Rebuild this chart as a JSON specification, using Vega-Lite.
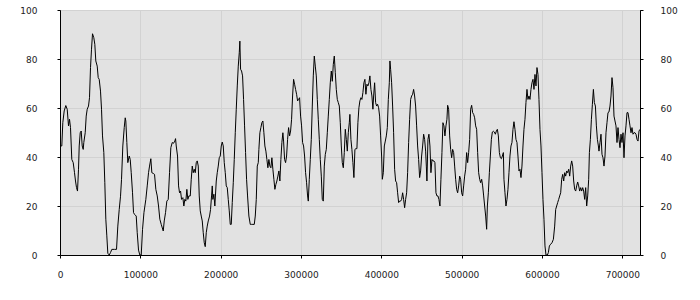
{
"$schema":"https://vega.github.io/schema/vega-lite/v6.json",
"width":580,"height":245,
"autosize":{"type":"none"},
"padding":{"left":60,"top":10,"right":60,"bottom":45},
"background":"white",
"view":{"fill":"#e2e2e2","stroke":"black","strokeWidth":1},
"data":{"values":[
{"x":0,"y":44.5},{"x":2240,"y":44.5},{"x":3490,"y":54},{"x":5230,"y":58.8},{"x":7220,"y":61},{"x":8970,"y":59.5},{"x":10590,"y":52.7},{"x":11830,"y":55.4},{"x":13080,"y":52},{"x":14690,"y":39},{"x":16440,"y":37.7},{"x":18060,"y":33.6},{"x":19300,"y":30.2},{"x":20550,"y":27.5},{"x":21790,"y":26.1},{"x":23040,"y":35},{"x":23910,"y":44.5},{"x":25150,"y":49.9},{"x":26400,"y":50.6},{"x":27650,"y":44.5},{"x":28890,"y":43.1},{"x":29640,"y":45.9},{"x":31380,"y":49.9},{"x":32630,"y":56.7},{"x":33870,"y":59.5},{"x":35490,"y":60.8},{"x":36740,"y":64.2},{"x":37980,"y":76.5},{"x":39230,"y":84},{"x":40470,"y":90.3},{"x":42090,"y":88.7},{"x":43340,"y":86},{"x":44580,"y":79.2},{"x":46320,"y":77.1},{"x":47570,"y":72.4},{"x":48810,"y":71.7},{"x":50430,"y":66.9},{"x":51680,"y":59.5},{"x":52920,"y":48.6},{"x":54540,"y":41.8},{"x":55790,"y":29.5},{"x":57030,"y":14.6},{"x":58280,"y":7.8},{"x":59520,"y":0.7},{"x":61270,"y":0},{"x":62890,"y":1},{"x":64510,"y":2.3},{"x":67870,"y":2.3},{"x":70360,"y":2.3},{"x":71980,"y":11.8},{"x":73720,"y":18.6},{"x":75340,"y":24},{"x":76580,"y":30.9},{"x":78200,"y":44.5},{"x":79950,"y":52},{"x":81190,"y":56},{"x":81940,"y":54.7},{"x":83190,"y":45.9},{"x":84430,"y":37.7},{"x":86170,"y":40.4},{"x":87420,"y":39},{"x":88660,"y":33.6},{"x":90280,"y":25.4},{"x":91530,"y":17.3},{"x":92770,"y":16.6},{"x":94890,"y":15.9},{"x":96130,"y":9.1},{"x":97750,"y":2},{"x":99370,"y":0},{"x":101120,"y":0},{"x":102740,"y":10.5},{"x":104500,"y":17.3},{"x":106850,"y":22.7},{"x":108590,"y":28.2},{"x":110210,"y":33.6},{"x":111460,"y":36.3},{"x":113080,"y":39.3},{"x":114320,"y":33.6},{"x":116060,"y":33.3},{"x":117680,"y":32.9},{"x":119300,"y":26.8},{"x":121050,"y":24.1},{"x":122670,"y":20},{"x":124280,"y":14.6},{"x":126030,"y":12.5},
{"x":128510,"y":9.8},{"x":129760,"y":13.9},{"x":131380,"y":17.3},{"x":133000,"y":22},{"x":134740,"y":22.7},{"x":136360,"y":33.6},{"x":137980,"y":43.8},{"x":139720,"y":45.9},{"x":141340,"y":45.6},{"x":142960,"y":46.5},{"x":143830,"y":47.5},{"x":144700,"y":44.5},{"x":146320,"y":40.4},{"x":147570,"y":28.2},{"x":148810,"y":25.4},{"x":150060,"y":26.1},{"x":151300,"y":22.7},{"x":152920,"y":23.4},{"x":154170,"y":20},{"x":155410,"y":22.7},{"x":156660,"y":22},{"x":157900,"y":26.8},{"x":159150,"y":22.7},{"x":160390,"y":24.1},{"x":162140,"y":24.1},{"x":163380,"y":30.9},{"x":164630,"y":36.3},{"x":165870,"y":33.6},{"x":167120,"y":35},{"x":168360,"y":33.6},{"x":169610,"y":37.7},{"x":170850,"y":38.4},{"x":172100,"y":36.3},{"x":173340,"y":24.1},{"x":174590,"y":18},{"x":175830,"y":15.9},{"x":177080,"y":13.9},{"x":178320,"y":9.1},{"x":179570,"y":5},{"x":180810,"y":3.4},{"x":182060,"y":9.1},{"x":183300,"y":11.8},{"x":184550,"y":13.9},{"x":186170,"y":15.9},{"x":187410,"y":18.6},{"x":188660,"y":24.1},{"x":189530,"y":28.2},{"x":190280,"y":22.7},{"x":191530,"y":24.8},{"x":192770,"y":20},{"x":194520,"y":30.2},{"x":195760,"y":33.6},{"x":197010,"y":36.3},{"x":198250,"y":39.7},{"x":199500,"y":40.4},{"x":200740,"y":44.5},{"x":201990,"y":46.1},{"x":203230,"y":44.5},{"x":204480,"y":37.7},{"x":205720,"y":33.6},{"x":206970,"y":28.2},{"x":208210,"y":27.5},{"x":209460,"y":22.7},{"x":210700,"y":18},{"x":211950,"y":12.5},{"x":213190,"y":12.5},{"x":214440,"y":21.4},{"x":215690,"y":29.5},{"x":216930,"y":39},{"x":218180,"y":49.9},{"x":219420,"y":59.5},{"x":220670,"y":69},{"x":221910,"y":77.1},{"x":223160,"y":82.6},{"x":223910,"y":87.3},{"x":224780,"y":75.8},{"x":226030,"y":75.1},{"x":227270,"y":73.1},{"x":228520,"y":63.5},{"x":229760,"y":52.7},{"x":231010,"y":41.8},{"x":232250,"y":30.9},{"x":233500,"y":24.1},{"x":235120,"y":15.9},{"x":236860,"y":12.5},{"x":238480,"y":12.5},{"x":240100,"y":12.5},{"x":241840,"y":12.5},{"x":243080,"y":15.9},{"x":244330,"y":22.7},{"x":245570,"y":36.3},{"x":246820,"y":37.7},{"x":247570,"y":43.1},{"x":248810,"y":49.9},{"x":250060,"y":52},{"x":251300,"y":54},{"x":252550,"y":54.7},{"x":253790,"y":49.9},{"x":255040,"y":44.5},{"x":256280,"y":42.4},{"x":257530,"y":39},{"x":258770,"y":35.6},
{"x":260020,"y":39},{"x":261270,"y":36.3},{"x":262510,"y":35.6},{"x":263760,"y":39.7},{"x":265000,"y":35},{"x":266250,"y":30.9},{"x":267490,"y":26.8},{"x":268740,"y":28.8},{"x":269980,"y":30.2},{"x":271230,"y":32.2},{"x":272470,"y":34.3},{"x":273720,"y":30.2},{"x":274960,"y":39},{"x":276210,"y":45.9},{"x":277450,"y":49.9},{"x":278330,"y":46.5},{"x":279570,"y":39},{"x":280820,"y":37.7},{"x":282060,"y":40.4},{"x":283310,"y":47.2},{"x":284550,"y":52},{"x":285800,"y":48.6},{"x":287040,"y":50.6},{"x":288290,"y":55.4},{"x":289530,"y":64.9},{"x":290780,"y":71.7},{"x":292020,"y":69.7},{"x":293270,"y":67.6},{"x":294510,"y":65.6},{"x":295760,"y":62.9},{"x":297000,"y":63.5},{"x":298250,"y":64.2},{"x":299490,"y":56.7},{"x":300740,"y":52.7},{"x":301980,"y":45.9},{"x":303230,"y":44.5},{"x":304470,"y":40.4},{"x":305720,"y":33.6},{"x":306960,"y":29.5},{"x":308210,"y":24.1},{"x":309080,"y":22},{"x":310330,"y":30.9},{"x":311570,"y":39},{"x":312820,"y":47.2},{"x":314060,"y":60.8},{"x":315310,"y":73.1},{"x":316550,"y":81.2},{"x":317800,"y":77.1},{"x":319040,"y":73.1},{"x":320290,"y":63.5},{"x":321530,"y":55.4},{"x":322780,"y":47.2},{"x":324020,"y":39},{"x":325270,"y":32.2},{"x":326510,"y":22.7},{"x":327760,"y":22},{"x":329000,"y":36.3},{"x":330250,"y":41.1},{"x":331490,"y":43.1},{"x":332740,"y":49.9},{"x":333980,"y":56.7},{"x":335230,"y":63.5},{"x":336470,"y":70.3},{"x":337720,"y":75.1},{"x":338960,"y":70.9},{"x":340210,"y":77.8},{"x":341450,"y":81.2},{"x":342700,"y":74.4},{"x":343940,"y":67.6},{"x":345190,"y":63.5},{"x":346430,"y":62.2},{"x":347680,"y":60.8},{"x":348920,"y":54},{"x":350170,"y":44.5},{"x":351410,"y":37.7},{"x":352660,"y":35.6},{"x":353900,"y":41.8},{"x":355150,"y":51.3},{"x":356400,"y":47.2},{"x":357640,"y":42.4},{"x":358890,"y":49.9},{"x":360130,"y":54},{"x":360880,"y":57.4},{"x":362130,"y":47.2},{"x":363370,"y":43.1},{"x":364620,"y":37.7},{"x":365860,"y":31.6},{"x":367110,"y":43.1},{"x":368350,"y":43.4},{"x":369600,"y":43.4},{"x":370840,"y":54},{"x":372090,"y":60.1},{"x":373330,"y":62.9},{"x":374580,"y":64.2},{"x":375820,"y":63.5},{"x":377070,"y":66.3},{"x":378310,"y":70.3},{"x":379560,"y":71.7},{"x":380800,"y":65.6},{"x":382050,"y":69.7},{"x":383290,"y":69},{"x":384540,"y":70.3},{"x":385780,"y":73.1},{"x":387030,"y":67.6},{"x":388270,"y":64.9},{"x":389520,"y":59.5},
{"x":390390,"y":64.9},{"x":391640,"y":70.3},{"x":392880,"y":62.2},{"x":394130,"y":60.8},{"x":395380,"y":61.5},{"x":396620,"y":60.1},{"x":397870,"y":56.7},{"x":399110,"y":48.6},{"x":400360,"y":40.4},{"x":401230,"y":30.9},{"x":402480,"y":33.6},{"x":403720,"y":44.5},{"x":404970,"y":46.5},{"x":406210,"y":48.6},{"x":407460,"y":52},{"x":408700,"y":63.5},{"x":409950,"y":70.3},{"x":410700,"y":79.2},{"x":411570,"y":75.8},{"x":412810,"y":70.3},{"x":414060,"y":60.8},{"x":415300,"y":49.9},{"x":416550,"y":35},{"x":417790,"y":30.2},{"x":419040,"y":29.5},{"x":420280,"y":25.4},{"x":421530,"y":21.4},{"x":422770,"y":22},{"x":424020,"y":22},{"x":425260,"y":22.7},{"x":426510,"y":25.4},{"x":427750,"y":22.7},{"x":429000,"y":19.3},{"x":430240,"y":22.7},{"x":431490,"y":25.4},{"x":432730,"y":33.6},{"x":433980,"y":45.9},{"x":435220,"y":55.4},{"x":436470,"y":63.5},{"x":437710,"y":64.9},{"x":438960,"y":65.6},{"x":440200,"y":67.6},{"x":441450,"y":64.9},{"x":442690,"y":60.8},{"x":443940,"y":52.7},{"x":445180,"y":44.5},{"x":446430,"y":39},{"x":447670,"y":31.6},{"x":448920,"y":34.3},{"x":450160,"y":40.4},{"x":451410,"y":44.5},{"x":452650,"y":49.3},{"x":453900,"y":47.2},{"x":455140,"y":42.4},{"x":456020,"y":36.3},{"x":456770,"y":30.2},{"x":458020,"y":47.2},{"x":459260,"y":49.3},{"x":460510,"y":44.5},{"x":461750,"y":33.6},{"x":463000,"y":39},{"x":464240,"y":38.4},{"x":465490,"y":38.4},{"x":466730,"y":37.7},{"x":467980,"y":25.4},{"x":469220,"y":24.1},{"x":470470,"y":24.1},{"x":471710,"y":22.7},{"x":472960,"y":20},{"x":474200,"y":30.9},{"x":475450,"y":41.8},{"x":476690,"y":54},{"x":477940,"y":52.7},{"x":479180,"y":48.6},{"x":480430,"y":52.7},{"x":481670,"y":55.4},{"x":482560,"y":61.1},{"x":483800,"y":59.5},{"x":485050,"y":48.6},{"x":486290,"y":43.1},{"x":487540,"y":39.7},{"x":488780,"y":43.1},{"x":490030,"y":41.8},{"x":491270,"y":36.3},{"x":492520,"y":30.9},{"x":493760,"y":26.8},{"x":495010,"y":25.4},{"x":496250,"y":28.2},{"x":497500,"y":32.2},{"x":498740,"y":30.9},{"x":499990,"y":25.4},{"x":501230,"y":24.1},{"x":502480,"y":28.2},{"x":503720,"y":32.2},{"x":504970,"y":35},{"x":506210,"y":41.8},{"x":507460,"y":37.7},{"x":508700,"y":41.8},{"x":509950,"y":47.2},{"x":511190,"y":59.5},{"x":512440,"y":61.1},{"x":513680,"y":58.1},{"x":514930,"y":57.4},{"x":516170,"y":56},{"x":517420,"y":52.7},{"x":518660,"y":51.3},
{"x":519910,"y":41.8},{"x":521150,"y":33.6},{"x":522400,"y":30.9},{"x":523640,"y":29.5},{"x":524890,"y":30.9},{"x":526130,"y":28.2},{"x":527380,"y":24.1},{"x":528620,"y":20},{"x":529870,"y":15.9},{"x":531110,"y":10.5},{"x":531990,"y":20},{"x":533230,"y":25.4},{"x":534480,"y":33.6},{"x":535720,"y":40.4},{"x":536970,"y":47.2},{"x":538210,"y":50.2},{"x":539460,"y":50.5},{"x":540700,"y":50.2},{"x":541950,"y":49.3},{"x":543190,"y":50.6},{"x":544440,"y":51.3},{"x":545690,"y":48.6},{"x":546930,"y":41.8},{"x":548180,"y":39.7},{"x":549420,"y":39.3},{"x":550670,"y":40.4},{"x":551910,"y":41.8},{"x":552660,"y":30.9},{"x":553910,"y":25.4},{"x":555150,"y":20},{"x":556400,"y":22.7},{"x":557640,"y":26.8},{"x":558890,"y":33.6},{"x":560130,"y":40.4},{"x":561380,"y":44.5},{"x":562620,"y":45.9},{"x":563870,"y":51.3},{"x":565110,"y":54.4},{"x":566360,"y":51.3},{"x":567600,"y":47.2},{"x":568850,"y":45.9},{"x":570090,"y":40.4},{"x":571340,"y":34.3},{"x":572580,"y":35},{"x":573830,"y":31.6},{"x":575070,"y":36.3},{"x":576320,"y":44.5},{"x":577560,"y":51.3},{"x":578810,"y":55.4},{"x":580050,"y":62.2},{"x":581300,"y":67.6},{"x":582540,"y":63.5},{"x":583790,"y":64.9},{"x":585030,"y":63.5},{"x":586280,"y":67.6},{"x":587520,"y":70.3},{"x":588770,"y":71.7},{"x":590010,"y":67.6},{"x":591260,"y":73.7},{"x":592500,"y":69},{"x":593750,"y":76.5},{"x":594990,"y":73.7},{"x":596240,"y":63.5},{"x":597480,"y":51.3},{"x":598730,"y":44.5},{"x":599970,"y":33.6},{"x":601220,"y":22.7},{"x":602460,"y":14.6},{"x":603710,"y":3.7},{"x":604950,"y":0},{"x":606700,"y":0},{"x":607940,"y":1},{"x":609190,"y":3.7},{"x":610810,"y":4.4},{"x":612430,"y":5},{"x":614170,"y":6.4},{"x":615790,"y":11.8},{"x":617040,"y":18.6},{"x":618280,"y":20},{"x":619530,"y":21.4},{"x":620770,"y":22.7},{"x":622020,"y":24.1},{"x":623260,"y":25.4},{"x":624510,"y":30.9},{"x":625750,"y":32.9},{"x":627000,"y":30.2},{"x":628240,"y":33.6},{"x":629490,"y":32.2},{"x":630730,"y":34.3},{"x":631980,"y":33.6},{"x":633220,"y":35},{"x":634470,"y":32.2},{"x":635710,"y":36.3},{"x":636960,"y":38.4},{"x":638200,"y":36.3},{"x":639450,"y":30.2},{"x":640690,"y":26.8},{"x":641940,"y":26.1},{"x":643180,"y":28.2},{"x":644430,"y":29.8},{"x":645670,"y":28.2},{"x":646920,"y":26.1},
{"x":648160,"y":27.5},{"x":649410,"y":26.1},{"x":650650,"y":27.5},{"x":651900,"y":26.1},{"x":653140,"y":22.7},{"x":654390,"y":27.5},{"x":655630,"y":20},{"x":656880,"y":24.1},{"x":658120,"y":30.9},{"x":659000,"y":41.8},{"x":660240,"y":47.2},{"x":661490,"y":55.4},{"x":662730,"y":61.5},{"x":663980,"y":67.6},{"x":665220,"y":62.2},{"x":666470,"y":60.8},{"x":667710,"y":52.7},{"x":668960,"y":47.2},{"x":670200,"y":44.5},{"x":670950,"y":42.4},{"x":672200,"y":45.9},{"x":673440,"y":49.3},{"x":674690,"y":41.1},{"x":675930,"y":39.7},{"x":677180,"y":36.3},{"x":678420,"y":40.4},{"x":679670,"y":49.9},{"x":680910,"y":54},{"x":682160,"y":58.1},{"x":683400,"y":58.4},{"x":684650,"y":60.8},{"x":685890,"y":64.9},{"x":687140,"y":72.4},{"x":688380,"y":68.3},{"x":689630,"y":56.7},{"x":690870,"y":54.7},{"x":692120,"y":52.7},{"x":693370,"y":45.9},{"x":694610,"y":52},{"x":695860,"y":47.2},{"x":697100,"y":43.8},{"x":698350,"y":49.3},{"x":699590,"y":45.9},{"x":700840,"y":49.9},{"x":702080,"y":39.7},{"x":703330,"y":48.6},{"x":704570,"y":52.7},{"x":705820,"y":58.1},{"x":707060,"y":58.1},{"x":708310,"y":55.4},{"x":709550,"y":52.7},{"x":710800,"y":49.9},{"x":712040,"y":52},{"x":713290,"y":49.3},{"x":714530,"y":49.9},{"x":715780,"y":49.9},{"x":717020,"y":49.3},{"x":718270,"y":47.2},{"x":719510,"y":46.5},{"x":720760,"y":50.6},{"x":722000,"y":51.3}
]},
"layer":[
{"mark":{"type":"line","color":"black","strokeWidth":1,"clip":true},
 "encoding":{
  "x":{"field":"x","type":"quantitative","scale":{"domain":[0,722000],"nice":false,"zero":false},
       "axis":{"title":null,"values":[0,100000,200000,300000,400000,500000,600000,700000],"format":"d","grid":true,"gridColor":"#d2d2d2","gridWidth":1,"domainColor":"black","tickColor":"black","tickSize":3,"labelPadding":12,"labelFont":"DejaVu Sans","labelFontSize":9,"labelColor":"#222","labelOverlap":false,"labelFlush":false}},
  "y":{"field":"y","type":"quantitative","scale":{"domain":[0,100],"nice":false},
       "axis":{"orient":"left","title":null,"values":[0,20,40,60,80,100],"grid":true,"gridColor":"#d2d2d2","gridWidth":1,"domainColor":"black","tickColor":"black","tickSize":3,"labelPadding":20,"labelFont":"DejaVu Sans","labelFontSize":9,"labelColor":"#222","labelOverlap":false,"labelFlush":false}}
 }},
{"mark":{"type":"line","strokeOpacity":0},
 "encoding":{
  "x":{"field":"x","type":"quantitative","scale":{"domain":[0,722000],"nice":false,"zero":false},
       "axis":{"title":null,"values":[0,100000,200000,300000,400000,500000,600000,700000],"format":"d","grid":true,"gridColor":"#d2d2d2","gridWidth":1,"domainColor":"black","tickColor":"black","tickSize":3,"labelPadding":12,"labelFont":"DejaVu Sans","labelFontSize":9,"labelColor":"#222","labelOverlap":false,"labelFlush":false}},
  "y":{"field":"y","type":"quantitative","scale":{"domain":[0,100],"nice":false},
       "axis":{"orient":"right","title":null,"values":[0,20,40,60,80,100],"grid":false,"domainColor":"black","tickColor":"black","tickSize":3,"labelPadding":17,"labelFont":"DejaVu Sans","labelFontSize":9,"labelColor":"#222","labelOverlap":false,"labelFlush":false}}
 }}
],
"resolve":{"axis":{"y":"independent"}}
}
